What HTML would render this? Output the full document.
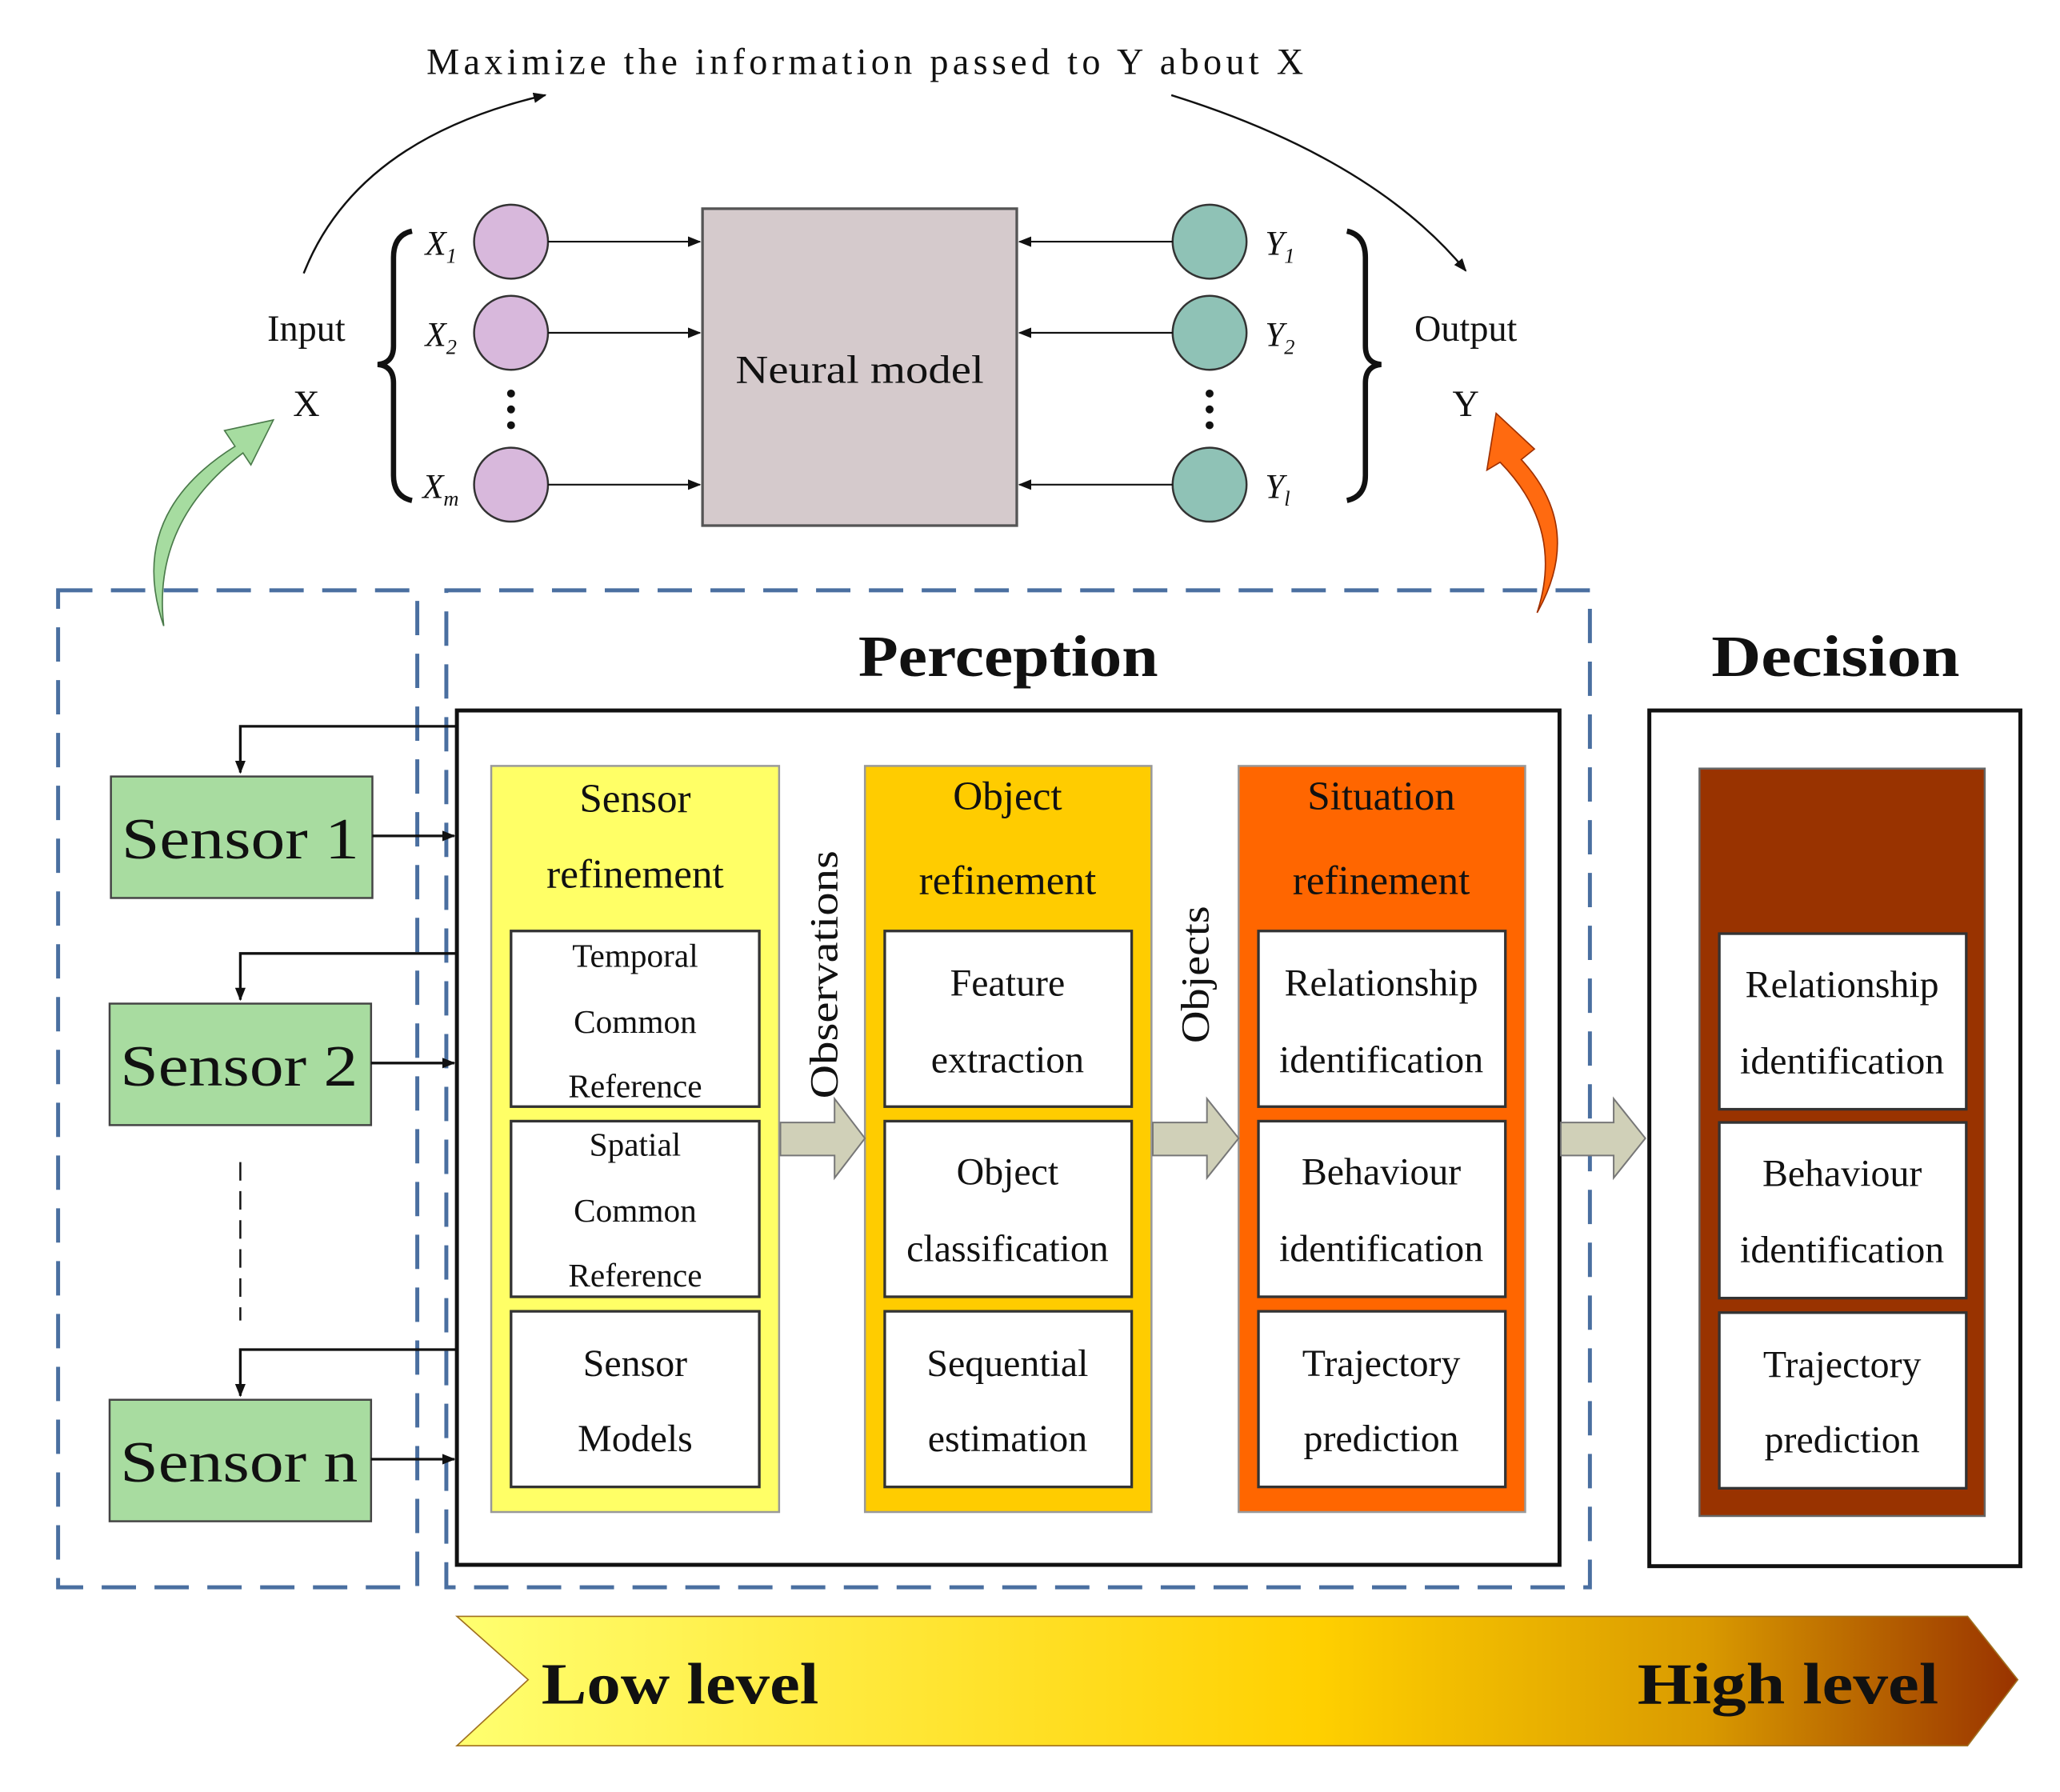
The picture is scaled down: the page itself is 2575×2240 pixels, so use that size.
<!DOCTYPE html>
<html><head><meta charset="utf-8"><style>
html,body{margin:0;padding:0;background:#fff;}
svg{display:block;}
text{font-family:"Liberation Serif",serif;fill:#111;}
</style></head><body>
<svg width="2575" height="2240" viewBox="0 0 1560 1357" xmlns="http://www.w3.org/2000/svg">
<defs>
<marker id="ah" markerWidth="10" markerHeight="8" refX="9" refY="4" orient="auto" markerUnits="userSpaceOnUse"><path d="M0,0 L10,4 L0,8 Z" fill="#111"/></marker>
<linearGradient id="lg" x1="0" x2="1" y1="0" y2="0">
<stop offset="0" stop-color="#ffff70"/><stop offset="0.55" stop-color="#ffd000"/><stop offset="0.8" stop-color="#d99a00"/><stop offset="1" stop-color="#993300"/></linearGradient>
</defs>

<text x="323" y="56" font-size="28" textLength="664" lengthAdjust="spacing">Maximize the information passed to Y about X</text>
<path d="M230,207 Q270,105 413,72" fill="none" stroke="#111" stroke-width="1.5" marker-end="url(#ah)"/>
<path d="M887,72 Q1040,120 1110,205" fill="none" stroke="#111" stroke-width="1.5" marker-end="url(#ah)"/>

<text x="232" y="258" font-size="28" text-anchor="middle">Input</text>
<text x="232" y="315" font-size="28" text-anchor="middle">X</text>
<text x="1110" y="258" font-size="28" text-anchor="middle">Output</text>
<text x="1110" y="315" font-size="28" text-anchor="middle">Y</text>

<path d="M312,175 Q298,178 298,195 L298,262 Q298,275 286,276 Q298,277 298,290 L298,360 Q298,376 312,379" fill="none" stroke="#111" stroke-width="4"/>
<path d="M1020,175 Q1034,178 1034,195 L1034,262 Q1034,275 1046,276 Q1034,277 1034,290 L1034,360 Q1034,376 1020,379" fill="none" stroke="#111" stroke-width="4"/>

<g fill="#d8b8dc" stroke="#333" stroke-width="1.5">
<circle cx="387" cy="183" r="28"/><circle cx="387" cy="252" r="28"/><circle cx="387" cy="367" r="28"/>
</g>
<g fill="#8fc2b6" stroke="#333" stroke-width="1.5">
<circle cx="916" cy="183" r="28"/><circle cx="916" cy="252" r="28"/><circle cx="916" cy="367" r="28"/>
</g>
<g fill="#111"><circle cx="387" cy="298" r="3"/><circle cx="387" cy="310" r="3"/><circle cx="387" cy="322" r="3"/>
<circle cx="916" cy="298" r="3"/><circle cx="916" cy="310" r="3"/><circle cx="916" cy="322" r="3"/></g>
<g font-size="26" font-style="italic">
<text x="322" y="193">X<tspan font-size="16" dy="6">1</tspan></text>
<text x="322" y="262">X<tspan font-size="16" dy="6">2</tspan></text>
<text x="320" y="377">X<tspan font-size="16" dy="6">m</tspan></text>
<text x="958" y="193">Y<tspan font-size="16" dy="6">1</tspan></text>
<text x="958" y="262">Y<tspan font-size="16" dy="6">2</tspan></text>
<text x="958" y="377">Y<tspan font-size="16" dy="6">l</tspan></text>
</g>
<g stroke="#111" stroke-width="1.3" marker-end="url(#ah)">
<line x1="415" y1="183" x2="530" y2="183"/><line x1="415" y1="252" x2="530" y2="252"/><line x1="415" y1="367" x2="530" y2="367"/>
<line x1="888" y1="183" x2="772" y2="183"/><line x1="888" y1="252" x2="772" y2="252"/><line x1="888" y1="367" x2="772" y2="367"/>
</g>
<rect x="532" y="158" width="238" height="240" fill="#d5cacc" stroke="#555" stroke-width="2"/>
<text x="651" y="290" font-size="30" text-anchor="middle" textLength="188" lengthAdjust="spacingAndGlyphs">Neural model</text>

<path d="M124,474 Q95,390 178,338 L170,326 L207,318 L190,352 L184,343 Q115,395 124,474 Z" fill="#a6dca0" stroke="#4a7a4a" stroke-width="1"/>
<path d="M1164,464 Q1200,400 1152,348 L1162,340 L1133,313 L1126,356 L1136,350 Q1185,400 1164,464 Z" fill="#ff6a10" stroke="#a03000" stroke-width="1"/>

<g fill="none" stroke="#4a6fa0" stroke-width="3" stroke-dasharray="26,14">
<rect x="44" y="447" width="272" height="755"/>
<rect x="338" y="447" width="866" height="755"/>
</g>

<text x="650" y="512" font-size="44" font-weight="bold" textLength="227" lengthAdjust="spacingAndGlyphs">Perception</text>
<text x="1296" y="512" font-size="44" font-weight="bold" textLength="188" lengthAdjust="spacingAndGlyphs">Decision</text>

<rect x="346" y="538" width="835" height="647" fill="#fff" stroke="#111" stroke-width="3"/>
<rect x="1249" y="538" width="281" height="648" fill="#fff" stroke="#111" stroke-width="3"/>

<g fill="#a8dca0" stroke="#444" stroke-width="1.5">
<rect x="84" y="588" width="198" height="92"/><rect x="83" y="760" width="198" height="92"/><rect x="83" y="1060" width="198" height="92"/>
</g>
<g font-size="44">
<text x="92" y="650" textLength="180" lengthAdjust="spacingAndGlyphs">Sensor 1</text>
<text x="91" y="822" textLength="180" lengthAdjust="spacingAndGlyphs">Sensor 2</text>
<text x="91" y="1122" textLength="180" lengthAdjust="spacingAndGlyphs">Sensor n</text>
</g>
<g fill="none" stroke="#111" stroke-width="2" marker-end="url(#ah)">
<polyline points="346,550 182,550 182,585"/>
<polyline points="346,722 182,722 182,757"/>
<polyline points="346,1022 182,1022 182,1057"/>
<line x1="282" y1="633" x2="344" y2="633"/>
<line x1="281" y1="805" x2="344" y2="805"/>
<line x1="281" y1="1105" x2="344" y2="1105"/>
</g>
<line x1="182" y1="880" x2="182" y2="1000" stroke="#111" stroke-width="1.5" stroke-dasharray="14,8"/>

<rect x="372" y="580" width="218" height="565" fill="#ffff66" stroke="#999" stroke-width="1.5"/>
<rect x="655" y="580" width="217" height="565" fill="#ffcc00" stroke="#999" stroke-width="1.5"/>
<rect x="938" y="580" width="217" height="565" fill="#ff6600" stroke="#999" stroke-width="1.5"/>
<rect x="1287" y="582" width="216" height="566" fill="#993300" stroke="#666" stroke-width="1.5"/>

<g font-size="31" text-anchor="middle">
<text x="481" y="615">Sensor</text><text x="481" y="672">refinement</text>
<text x="763" y="613">Object</text><text x="763" y="677">refinement</text>
<text x="1046" y="613">Situation</text><text x="1046" y="677">refinement</text>
</g>

<g fill="#fff" stroke="#333" stroke-width="2">
<rect x="387" y="705" width="188" height="133"/><rect x="387" y="849" width="188" height="133"/><rect x="387" y="993" width="188" height="133"/>
<rect x="670" y="705" width="187" height="133"/><rect x="670" y="849" width="187" height="133"/><rect x="670" y="993" width="187" height="133"/>
<rect x="953" y="705" width="187" height="133"/><rect x="953" y="849" width="187" height="133"/><rect x="953" y="993" width="187" height="133"/>
<rect x="1302" y="707" width="187" height="133"/><rect x="1302" y="850" width="187" height="133"/><rect x="1302" y="994" width="187" height="133"/>
</g>
<g font-size="25" text-anchor="middle">
<text x="481" y="732">Temporal</text><text x="481" y="782">Common</text><text x="481" y="831">Reference</text>
<text x="481" y="875">Spatial</text><text x="481" y="925">Common</text><text x="481" y="974">Reference</text>
</g>
<g font-size="29" text-anchor="middle">
<text x="481" y="1042">Sensor</text><text x="481" y="1099">Models</text>
<text x="763" y="754">Feature</text><text x="763" y="812">extraction</text>
<text x="763" y="897">Object</text><text x="763" y="955">classification</text>
<text x="763" y="1042">Sequential</text><text x="763" y="1099">estimation</text>
<text x="1046" y="754">Relationship</text><text x="1046" y="812">identification</text>
<text x="1046" y="897">Behaviour</text><text x="1046" y="955">identification</text>
<text x="1046" y="1042">Trajectory</text><text x="1046" y="1099">prediction</text>
<text x="1395" y="755">Relationship</text><text x="1395" y="813">identification</text>
<text x="1395" y="898">Behaviour</text><text x="1395" y="956">identification</text>
<text x="1395" y="1043">Trajectory</text><text x="1395" y="1100">prediction</text>
</g>
<text transform="translate(634,738) rotate(-90)" font-size="30" text-anchor="middle" textLength="188" lengthAdjust="spacingAndGlyphs">Observations</text>
<text transform="translate(915,738) rotate(-90)" font-size="30" text-anchor="middle" textLength="104" lengthAdjust="spacingAndGlyphs">Objects</text>

<g fill="#d0d0b8" stroke="#777" stroke-width="1.2">
<polygon points="591,850 632,850 632,832 655,862 632,892 632,875 591,875"/>
<polygon points="873,850 914,850 914,832 938,862 914,892 914,875 873,875"/>
<polygon points="1182,850 1222,850 1222,832 1246,862 1222,892 1222,875 1182,875"/>
</g>

<polygon points="346,1224 1490,1224 1528,1272 1490,1322 346,1322 400,1272" fill="url(#lg)" stroke="#a07020" stroke-width="1"/>
<text x="410" y="1290" font-size="44" font-weight="bold" textLength="210" lengthAdjust="spacingAndGlyphs">Low level</text>
<text x="1240" y="1290" font-size="44" font-weight="bold" textLength="228" lengthAdjust="spacingAndGlyphs">High level</text>
</svg>
</body></html>
